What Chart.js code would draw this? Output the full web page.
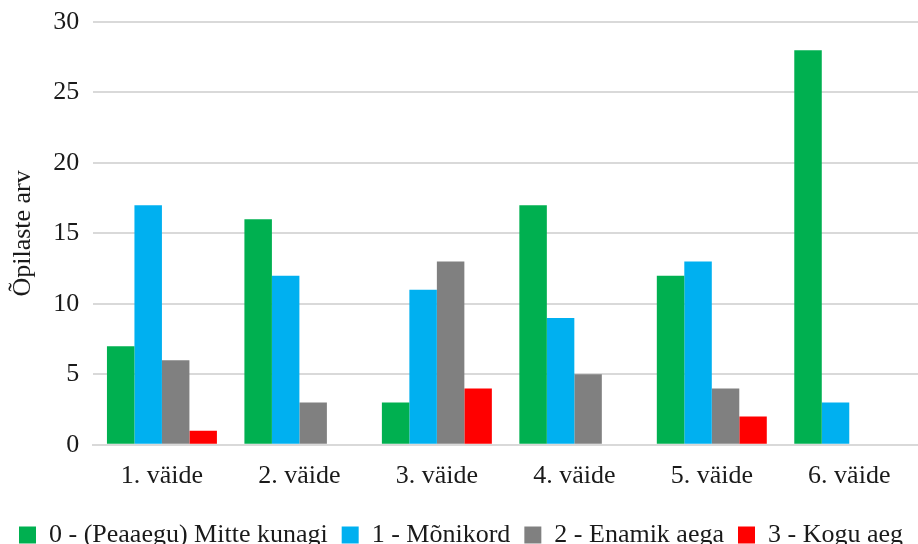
<!DOCTYPE html>
<html lang="et">
<head>
  <meta charset="UTF-8" />
  <title>Õpilaste arv väidete kaupa</title>
  <style>
    html, body { margin: 0; padding: 0; background: #fff; overflow: hidden; }
    #wrap { width: 918px; height: 544px; }
  </style>
</head>
<body>
<div id="wrap"><canvas id="chart" width="918" height="544"></canvas></div>

<script src="https://cdn.jsdelivr.net/npm/chart.js"></script>
<script>
const categories = ['1. väide', '2. väide', '3. väide', '4. väide', '5. väide', '6. väide'];
const seriesNames = ['0 - (Peaaegu) Mitte kunagi', '1 - Mõnikord', '2 - Enamik aega', '3 - Kogu aeg'];
const never = [7, 16, 3, 17, 12, 28];
const sometimes = [17, 12, 11, 9, 13, 3];
const mostly = [6, 3, 13, 5, 4, 0];
const always = [1, 0, 4, 0, 2, 0];
const yTicks = [0, 5, 10, 15, 20, 25, 30];

const colors = ['#00B050', '#00B0F0', '#808080', '#FF0000'];
const font = 'Liberation Serif, Times New Roman, serif';
const textColor = '#1a1a1a';

new Chart(document.getElementById('chart'), {
  type: 'bar',
  data: {
    labels: categories,
    datasets: [never, sometimes, mostly, always].map((vals, i) => ({
      label: seriesNames[i],
      data: vals,
      backgroundColor: colors[i],
      borderWidth: 0,
      categoryPercentage: 0.8,
      barPercentage: 1.0
    }))
  },
  options: {
    responsive: false,
    animation: false,
    layout: { padding: { left: 4, right: 0, top: 22, bottom: -14 } },
    plugins: {
      legend: {
        position: 'bottom',
        labels: {
          font: { family: font, size: 26 },
          color: textColor,
          boxWidth: 17,
          boxHeight: 17,
          padding: 14
        }
      },
      tooltip: { enabled: false }
    },
    scales: {
      x: {
        grid: { display: false, drawTicks: false },
        border: { color: '#d9d9d9', width: 2 },
        ticks: { font: { family: font, size: 26 }, color: textColor, padding: 16 }
      },
      y: {
        min: yTicks[0],
        max: yTicks[yTicks.length - 1],
        title: {
          display: true,
          text: 'Õpilaste arv',
          font: { family: font, size: 26 },
          color: textColor,
          padding: { top: 4, bottom: 0 }
        },
        grid: { color: '#d9d9d9', lineWidth: 2, drawTicks: false },
        border: { display: false },
        ticks: {
          stepSize: 5,
          font: { family: font, size: 26, lineHeight: 0.6 },
          color: textColor,
          padding: 14
        }
      }
    }
  }
});
</script>
</body>
</html>
